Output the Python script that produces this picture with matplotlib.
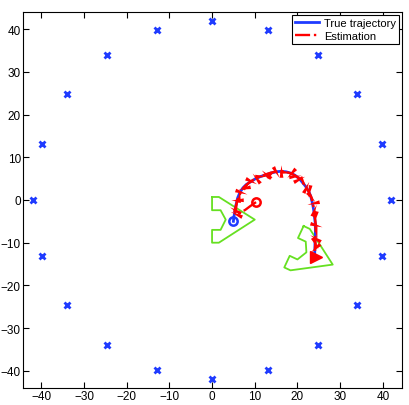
import numpy as np
import matplotlib
matplotlib.use("Agg")
import matplotlib.pyplot as plt
from matplotlib.markers import MarkerStyle
from matplotlib.path import Path
from matplotlib.transforms import Affine2D

plt.rcParams.update({'font.family': ['Liberation Sans', 'DejaVu Sans']})
plt.rcParams.update({'font.size': 8.5})

# landmarks
lm_x = [42.0, 39.9, 34.0, 24.7, 13.0, 0.0, -13.0, -24.7, -34.0, -39.9,
        -42.0, -39.9, -34.0, -24.7, -13.0, 0.0, 13.0, 24.7, 34.0, 39.9]
lm_y = [0.0, 13.0, 24.7, 34.0, 39.9, 42.0, 39.9, 34.0, 24.7, 13.0,
        0.0, -13.0, -24.7, -34.0, -39.9, -42.0, -39.9, -34.0, -24.7, -13.0]

# true trajectory
true_x = [5.0, 5.1, 5.3, 5.6, 6.0, 6.5, 7.2, 8.0, 9.1, 10.2, 11.4, 12.6, 13.8, 15.0,
          16.1, 17.3, 18.4, 19.4, 20.3, 21.1, 21.9, 22.6, 23.1, 23.5, 23.8, 24.0,
          24.2, 24.2, 24.2, 24.1, 24.1, 24.0]
true_y = [-5.0, -4.0, -3.0, -1.2, 0.5, 1.7, 2.8, 3.6, 4.3, 5.0, 5.5, 5.9, 6.3, 6.6,
          6.7, 6.6, 6.3, 5.8, 5.1, 4.2, 3.2, 2.1, 0.9, -0.7, -2.3, -4.0,
          -5.7, -7.3, -8.8, -10.0, -11.1, -13.3]

# estimated trajectory
est_x = [10.3, 9.0, 7.8, 6.6, 5.6, 5.3, 5.6, 5.9, 6.3, 6.8, 7.4, 8.2, 9.2, 10.3,
         11.5, 12.6, 13.8, 15.0, 16.2, 17.3, 18.5, 19.5, 20.4, 21.2, 21.9, 22.6,
         23.2, 23.6, 23.9, 24.1, 24.3, 24.3, 24.2, 24.2, 24.1, 24.3]
est_y = [-0.5, -1.4, -2.3, -3.0, -3.3, -2.4, -1.3, -0.1, 0.9, 1.9, 2.9, 3.7, 4.4, 5.1,
         5.6, 6.0, 6.4, 6.6, 6.8, 6.6, 6.2, 5.7, 5.0, 4.1, 3.1, 2.0,
         0.8, -0.8, -2.4, -4.1, -5.8, -7.4, -8.9, -10.1, -11.3, -13.4]
# heading offsets of the little arrows (deg)
est_jit = [0, 0, 0, 0, 0, 60, 0, 110, 20, -80, 140, 10, -60, 100,
           -20, 120, 30, -70, 90, 10, -110, 40, 70, -10, 120, -40,
           20, -90, 150, -20, 70, 10, -120, 30, -50, 0]

# vehicle outline (local) and the two drawn poses: x, y, heading(deg)
veh_x = [0.0, 1.6, 10.0, 1.6, 0.0, 0.0, 2.0, 3.2, 2.0, 0.0, 0.0]
veh_y = [5.3, 5.3, 0.0, -5.4, -5.4, -2.4, -2.4, 0.0, 2.2, 2.2, 5.3]
poses = [(0.0, -4.6, 0.0), (19.2, -10.9, -25.0)]

fig = plt.figure(figsize=(4.09, 4.06), dpi=100)
ax = fig.add_axes([0.056, 0.042, 0.927, 0.926])

ax.plot(lm_x, lm_y, 'x', color='#1f3bff', ms=4, mew=2, zorder=2)

for px, py, th in poses:
    t = np.deg2rad(th)
    vx = np.array(veh_x); vy = np.array(veh_y)
    gx = px + vx*np.cos(t) - vy*np.sin(t)
    gy = py + vx*np.sin(t) + vy*np.cos(t)
    ax.plot(gx, gy, color='#66e021', lw=1.3, zorder=2)

l1, = ax.plot(true_x, true_y, color='#1f3bff', lw=2, zorder=3, label='True trajectory')
l2, = ax.plot(est_x, est_y, '-.', color='red', lw=1.7, zorder=4, label='Estimation')

# heading arrows along the estimate
arrow = Path([(1, 0), (-1, 0.3), (-1, -0.3), (1, 0)],
             [Path.MOVETO, Path.LINETO, Path.LINETO, Path.CLOSEPOLY])
ex = np.array(est_x); ey = np.array(est_y)
hd = np.degrees(np.arctan2(np.gradient(ey), np.gradient(ex)))
for i in range(4, len(ex)-1):
    m = MarkerStyle(arrow, transform=Affine2D().rotate_deg(hd[i] + est_jit[i]))
    ax.plot(ex[i], ey[i], marker=m, ms=9, color='red', mew=0, ls='none', zorder=5)

ax.plot(true_x[0], true_y[0], 'o', mfc='none', mec='#1f3bff', ms=6, mew=1.8, zorder=5)
ax.plot(est_x[0], est_y[0], 'o', mfc='none', mec='red', ms=6, mew=1.8, zorder=5)
ax.plot(true_x[-1], true_y[-1], '>', color='#1f3bff', ms=5, zorder=5)
ax.plot(est_x[-1], est_y[-1], '>', color='red', ms=9, zorder=6)

ax.set_xlim(-44.3, 44.5)
ax.set_ylim(-44, 44)
ax.set_xticks(np.arange(-40, 41, 10))
ax.set_yticks(np.arange(-40, 41, 10))
ax.tick_params(direction='in', top=True, right=True, length=4, labelsize=8.5, pad=1.5)
for s in ax.spines.values():
    s.set_linewidth(0.8)

leg = ax.legend(handles=[l1, l2], loc='upper right', fontsize=8, fancybox=False,
                edgecolor='black', framealpha=1, handlelength=2.2,
                borderaxespad=0.25, borderpad=0.3, labelspacing=0.25, handletextpad=0.4)
leg.get_frame().set_linewidth(0.8)

plt.savefig('out.png', dpi=100)
